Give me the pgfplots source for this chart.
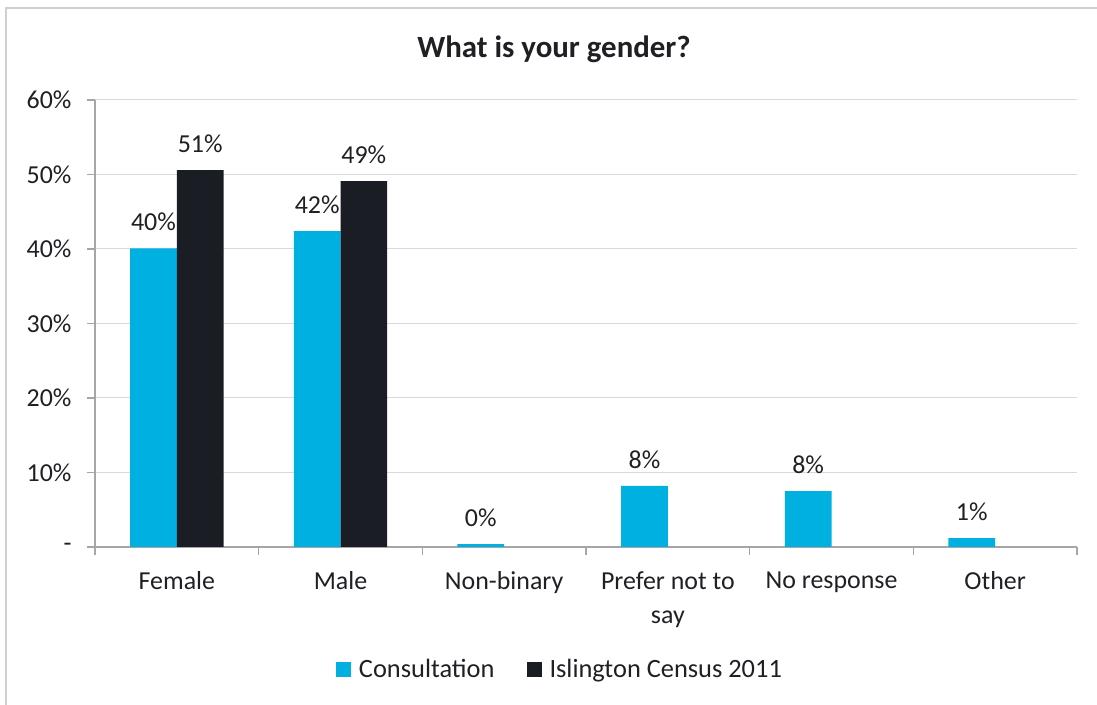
\documentclass[border=0pt]{standalone}
\usepackage{pgfplots}
\pgfplotsset{compat=1.18}
\usepackage{fontspec}
\setmainfont{Carlito}
\definecolor{cons}{HTML}{00B0E0}
\definecolor{cens}{HTML}{1A1D24}
\definecolor{txt}{HTML}{1F2024}
\definecolor{gridc}{HTML}{D9D9D9}
\definecolor{axc}{HTML}{A6A6A6}
\definecolor{framec}{HTML}{D0D0D0}
\begin{document}
\begin{tikzpicture}
\path[use as bounding box] (0bp,0bp) rectangle (1097bp,705bp);
\draw[framec, line width=2bp] (6bp,0bp) -- (6bp,697bp) -- (1097bp,697bp);
\node[font=\fontsize{31}{37}\selectfont\bfseries, text=txt] at (554bp,656bp) {What is your gender?};
\begin{axis}[
  at={(95bp,158bp)}, anchor=south west,
  scale only axis, width=982bp, height=447bp,
  xmin=-0.5, xmax=5.5, ymin=0, ymax=60,
  ybar=0pt, bar width=46.7bp,
  axis x line*=bottom, axis y line*=left,
  axis line style={axc, line width=1.2bp, -},
  ytick={0,10,...,60},
  yticklabels={-,10\%,20\%,30\%,40\%,50\%,60\%},
  ymajorgrids, grid style={gridc, line width=1bp},
  xtick={0,...,5},
  xticklabels={Female,Male,Non-binary,Prefer not to\\say,No response,Other},
  minor xtick={-0.5,0.5,...,5.5},
  major x tick style={draw=none},
  tick align=outside, major tick length=8bp, minor tick length=8bp,
  tick style={axc, line width=1.2bp},
  every tick label/.append style={font=\fontsize{26}{34}\selectfont, text=txt},
  xticklabel style={align=center, yshift=-13bp},
  yticklabel style={xshift=-12bp},
  nodes near coords={\pgfplotspointmeta\%},
  every node near coord/.append style={font=\fontsize{26}{31}\selectfont, text=txt, yshift=14bp},
  legend style={at={(0.4735,-0.273)}, anchor=center, draw=none, fill=none,
    legend columns=-1, font=\fontsize{26.5}{31}\selectfont, text=txt,
    /tikz/every odd column/.append style={column sep=6bp},
    /tikz/every even column/.append style={column sep=30bp}},
  legend image code/.code={\fill[#1] (0bp,-7.5bp) rectangle (15bp,7.5bp);},
]
\addplot[fill=cons, draw=none, point meta=explicit symbolic] table[meta=lab] {
x y lab
0 40.1 40
1 42.4 42
2 0.4 0
3 8.2 8
4 7.5 8
5 1.2 1
};
\addlegendentry{Consultation}
\addplot[fill=cens, draw=none, point meta=explicit symbolic] table[meta=lab] {
x y lab
0 50.6 51
1 49.1 49
};
\addlegendentry{Islington Census 2011}
\end{axis}
\end{tikzpicture}
\end{document}
